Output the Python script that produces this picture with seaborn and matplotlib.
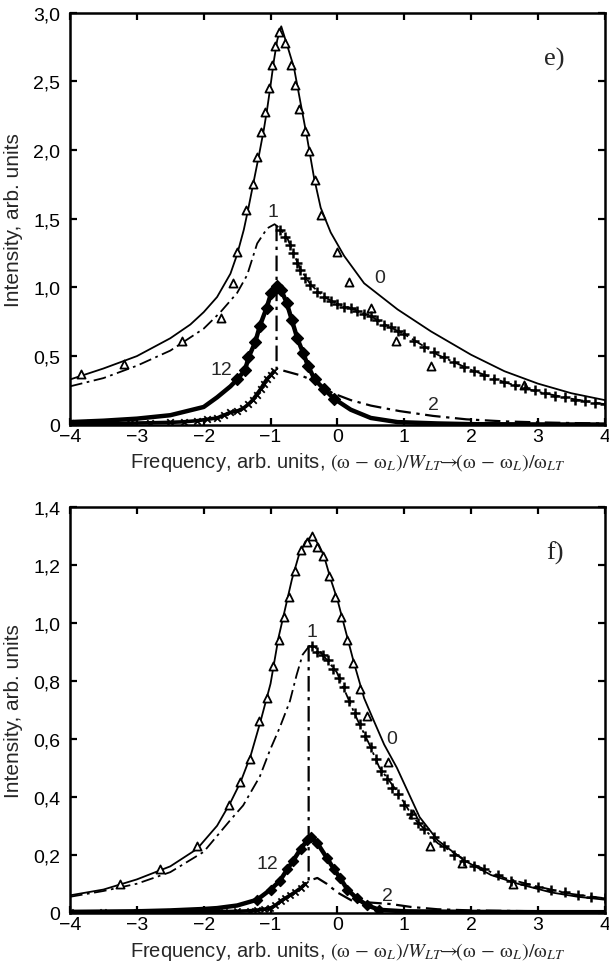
import matplotlib
matplotlib.use("Agg")
import matplotlib.pyplot as plt
import seaborn as sns

# ---------------- data: panel e ----------------
e0_x = [-4.0, -3.5, -3.0, -2.5, -2.2, -2.0, -1.8, -1.6, -1.5, -1.4, -1.33, -1.24, -1.17, -1.1, -1.05, -1.0,
        -0.95, -0.9, -0.84, -0.75, -0.65, -0.55, -0.45, -0.35, -0.25, -0.1, 0.1, 0.4, 0.9, 1.4, 2.0, 2.5,
        3.0, 3.5, 4.0]
e0_y = [0.33, 0.41, 0.50, 0.63, 0.73, 0.82, 0.93, 1.10, 1.24, 1.42, 1.58, 1.80, 1.97, 2.15, 2.30, 2.47,
        2.65, 2.80, 2.90, 2.76, 2.60, 2.34, 2.08, 1.80, 1.58, 1.40, 1.23, 1.03, 0.84, 0.68, 0.51, 0.39,
        0.30, 0.23, 0.18]
e0_mx = [-3.83, -3.19, -2.32, -1.74, -1.56, -1.5, -1.36, -1.27, -1.2, -1.14, -1.08, -1.03, -0.98, -0.93,
         -0.87, -0.78, -0.7, -0.63, -0.57, -0.49, -0.42, -0.34, -0.24, 0.0, 0.18, 0.5, 0.87, 1.4, 2.79]
e0_my = [0.37, 0.44, 0.61, 0.78, 1.03, 1.26, 1.56, 1.75, 1.95, 2.13, 2.28, 2.45, 2.62, 2.76,
         2.86, 2.78, 2.62, 2.47, 2.30, 2.14, 1.99, 1.78, 1.53, 1.26, 1.04, 0.85, 0.61, 0.43, 0.29]

e1_x = [-4.0, -3.5, -3.0, -2.5, -2.0, -1.75, -1.5, -1.35, -1.2, -1.05, -0.94, -0.86, -0.75, -0.65, -0.55,
        -0.4, -0.2, 0.0, 0.25, 0.5, 0.75, 1.0, 1.5, 2.0, 2.5, 3.0, 3.5, 4.0]
e1_y = [0.28, 0.34, 0.43, 0.54, 0.70, 0.82, 0.96, 1.09, 1.32, 1.43, 1.46, 1.43, 1.36, 1.24, 1.13,
        1.02, 0.93, 0.88, 0.84, 0.79, 0.72, 0.66, 0.51, 0.40, 0.31, 0.24, 0.19, 0.15]
e1_mx = [-0.86, -0.78, -0.71, -0.67, -0.6, -0.56, -0.48, -0.41, -0.3, -0.2, -0.1, 0.0, 0.1, 0.2, 0.3, 0.4,
         0.5, 0.6, 0.7, 0.8, 0.9, 1.0, 1.15, 1.3, 1.45, 1.6, 1.75, 1.9, 2.05, 2.2, 2.35, 2.5, 2.65, 2.8,
         2.95, 3.1, 3.25, 3.4, 3.55, 3.7, 3.85, 4.0]
e1_my = [1.42, 1.37, 1.31, 1.25, 1.18, 1.13, 1.07, 1.02, 0.97, 0.93, 0.90, 0.88, 0.86, 0.85, 0.83, 0.81,
         0.79, 0.76, 0.73, 0.71, 0.68, 0.66, 0.61, 0.57, 0.53, 0.49, 0.46, 0.42, 0.39, 0.36, 0.33, 0.31,
         0.29, 0.27, 0.25, 0.23, 0.21, 0.20, 0.18, 0.17, 0.16, 0.15]

e2_x = [-0.91, -0.91, -0.85, -0.7, -0.55, -0.4, -0.25, -0.07, 0.2, 0.5, 0.93, 1.43, 1.93, 2.5, 3.0, 3.5, 4.0]
e2_y = [1.45, 0.41, 0.40, 0.38, 0.36, 0.33, 0.29, 0.23, 0.18, 0.14, 0.10, 0.065, 0.04, 0.025, 0.018,
        0.013, 0.01]
e2_mx = [-4.0, -3.7, -3.4, -3.1, -2.8, -2.5, -2.3, -2.1, -1.95, -1.8, -1.7, -1.6, -1.5, -1.41, -1.33,
         -1.27, -1.21, -1.15, -1.1, -1.06, -1.0, -0.95]
e2_my = [0.01, 0.01, 0.01, 0.012, 0.015, 0.018, 0.022, 0.03, 0.04, 0.05, 0.07, 0.09, 0.10, 0.12, 0.15,
         0.18, 0.22, 0.26, 0.30, 0.33, 0.36, 0.39]

e12_x = [-4.0, -3.5, -3.0, -2.5, -2.0, -1.8, -1.6, -1.5, -1.38, -1.33, -1.23, -1.16, -1.06, -0.99, -0.91,
         -0.84, -0.76, -0.68, -0.6, -0.51, -0.44, -0.34, -0.2, -0.05, 0.2, 0.5, 0.9, 1.5, 2.0, 3.0, 4.0]
e12_y = [0.02, 0.03, 0.045, 0.07, 0.13, 0.20, 0.28, 0.33, 0.40, 0.49, 0.60, 0.72, 0.85, 0.96, 1.01,
         0.98, 0.89, 0.76, 0.63, 0.52, 0.43, 0.33, 0.26, 0.19, 0.11, 0.05, 0.02, 0.01, 0.005, 0.003, 0.002]

# ---------------- data: panel f ----------------
f0_x = [-4.0, -3.5, -3.0, -2.5, -2.1, -1.8, -1.6, -1.45, -1.3, -1.15, -1.0, -0.88, -0.78, -0.68, -0.58,
        -0.48, -0.38, -0.28, -0.2, -0.1, 0.0, 0.08, 0.25, 0.4, 0.53, 0.7, 0.89, 1.05, 1.23, 1.5, 1.9, 2.3,
        2.7, 3.2, 3.6, 4.0]
f0_y = [0.06, 0.08, 0.115, 0.16, 0.22, 0.30, 0.38, 0.45, 0.54, 0.66, 0.79, 0.95, 1.05, 1.15, 1.23,
        1.28, 1.30, 1.27, 1.23, 1.15, 1.08, 1.01, 0.86, 0.74, 0.67, 0.58, 0.50, 0.42, 0.33, 0.25, 0.18, 0.13,
        0.10, 0.07, 0.055, 0.045]
f0_mx = [-3.25, -2.65, -2.1, -1.62, -1.45, -1.31, -1.17, -1.05, -0.97, -0.88, -0.8, -0.72, -0.64, -0.55,
         -0.45, -0.38, -0.3, -0.22, -0.12, -0.03, 0.06, 0.14, 0.24, 0.34, 0.45, 0.75, 1.13, 1.38, 1.87, 2.62]
f0_my = [0.10, 0.15, 0.23, 0.37, 0.45, 0.53, 0.66, 0.74, 0.85, 0.94, 1.02, 1.09, 1.18, 1.25,
         1.28, 1.30, 1.26, 1.23, 1.16, 1.09, 1.02, 0.94, 0.86, 0.77, 0.68, 0.52, 0.34, 0.23, 0.17, 0.10]

f1_x = [-4.0, -3.5, -3.0, -2.5, -2.0, -1.6, -1.41, -1.16, -1.01, -0.86, -0.71, -0.61, -0.52, -0.42, -0.35,
        -0.22, -0.01, 0.14, 0.29, 0.48, 0.63, 0.89, 1.13, 1.5, 2.0, 2.5, 3.0, 3.5, 4.0]
f1_y = [0.055, 0.075, 0.10, 0.14, 0.21, 0.32, 0.37, 0.47, 0.56, 0.64, 0.73, 0.82, 0.89, 0.92, 0.92,
        0.89, 0.83, 0.75, 0.67, 0.58, 0.50, 0.42, 0.33, 0.24, 0.17, 0.12, 0.09, 0.065, 0.05]
f1_mx = [-0.38, -0.3, -0.22, -0.14, -0.06, 0.02, 0.1, 0.18, 0.26, 0.34, 0.42, 0.5, 0.58, 0.66, 0.74, 0.82,
         0.9, 1.0, 1.1, 1.2, 1.3, 1.45, 1.6, 1.75, 1.9, 2.05, 2.2, 2.4, 2.6, 2.8, 3.0, 3.2, 3.4, 3.6, 3.8, 4.0]
f1_my = [0.92, 0.90, 0.89, 0.87, 0.84, 0.81, 0.78, 0.73, 0.69, 0.65, 0.61, 0.57, 0.53, 0.49, 0.46, 0.43,
         0.41, 0.37, 0.34, 0.31, 0.29, 0.26, 0.23, 0.20, 0.18, 0.16, 0.15, 0.13, 0.11, 0.10, 0.09, 0.08,
         0.07, 0.06, 0.055, 0.05]

f2_x = [-0.43, -0.43, -0.3, -0.16, 0.0, 0.23, 0.5, 0.8, 1.1, 1.5, 2.0, 3.0, 4.0]
f2_y = [0.92, 0.11, 0.12, 0.10, 0.07, 0.04, 0.035, 0.03, 0.02, 0.012, 0.008, 0.005, 0.004]
f2_mx = [-4.0, -3.5, -3.0, -2.5, -2.0, -1.7, -1.5, -1.3, -1.2, -1.1, -1.01, -0.93, -0.85, -0.78, -0.71,
         -0.63, -0.55, -0.48]
f2_my = [0.002, 0.002, 0.003, 0.003, 0.003, 0.004, 0.005, 0.007, 0.009, 0.012, 0.015, 0.025, 0.04, 0.05,
         0.06, 0.072, 0.085, 0.10]

f12_x = [-4.0, -3.0, -2.5, -2.0, -1.8, -1.5, -1.2, -1.0, -0.86, -0.75, -0.66, -0.55, -0.45, -0.4, -0.3,
         -0.16, -0.05, 0.04, 0.15, 0.29, 0.45, 0.63, 1.0, 2.0, 3.0, 4.0]
f12_y = [0.003, 0.005, 0.008, 0.013, 0.016, 0.025, 0.045, 0.08, 0.11, 0.15, 0.18, 0.22, 0.25, 0.26, 0.24,
         0.19, 0.15, 0.12, 0.08, 0.05, 0.025, 0.01, 0.005, 0.003, 0.002, 0.002]

# ---------------- ticks / labels ----------------
x_ticks = [-4, -3, -2, -1, 0, 1, 2, 3, 4]
x_ticklabels = ["\u22124", "\u22123", "\u22122", "\u22121", "0", "1", "2", "3", "4"]
e_yticks = [0, 0.5, 1.0, 1.5, 2.0, 2.5, 3.0]
e_yticklabels = ["0", "0,5", "1,0", "1,5", "2,0", "2,5", "3,0"]
f_yticks = [0, 0.2, 0.4, 0.6, 0.8, 1.0, 1.2, 1.4]
f_yticklabels = ["0", "0,2", "0,4", "0,6", "0,8", "1,0", "1,2", "1,4"]

xlabel_txt = ("Frequency, arb. units, "
              r"$(\mathrm{\omega}\,-\,\mathrm{\omega}_L)/W_{LT}\!\!\rightarrow\!\!"
              r"(\mathrm{\omega}\,-\,\mathrm{\omega}_L)/\mathrm{\omega}_{LT}$")
ylabel_txt = "Intensity, arb. units"

# ---------------- style ----------------
sns.set_theme(style="ticks")
plt.rcParams["font.family"] = ["Liberation Sans", "DejaVu Sans"]
plt.rcParams["mathtext.fontset"] = "stix"
plt.rcParams["axes.linewidth"] = 1.6

fig = plt.figure(figsize=(6.09, 9.70), dpi=100)
ax_e = fig.add_axes([0.115, 0.5610, 0.878, 0.4250])
ax_f = fig.add_axes([0.115, 0.0580, 0.878, 0.4185])

DASHDOT = (0, (7, 2.5, 1.5, 2.5))
LW = 1.3


def line(ax, x, y, ls="-", lw=LW):
    sns.lineplot(x=x, y=y, ax=ax, color="black", estimator=None, sort=False,
                 linewidth=lw, linestyle=ls)
    ax.lines[-1].set_linestyle(ls)


def pts(ax, x, y, marker, s, filled=True, lw=1.0):
    if filled:
        sns.scatterplot(x=x, y=y, ax=ax, marker=marker, s=s, color="black",
                        edgecolor="black", linewidth=lw, zorder=4)
    else:
        sns.scatterplot(x=x, y=y, ax=ax, marker=marker, s=s, color="white",
                        edgecolor="black", linewidth=lw, zorder=4)


def unfilled(ax, x, y, marker, s, lw=1.2):
    sns.scatterplot(x=x, y=y, ax=ax, marker=marker, s=s, color="black", linewidth=lw, zorder=4)


# ---- panel e ----
line(ax_e, e0_x, e0_y, "-")
line(ax_e, e1_x, e1_y, DASHDOT)
line(ax_e, e2_x, e2_y, DASHDOT, lw=1.6)
line(ax_e, e12_x, e12_y, "-", lw=3.2)
line(ax_e, e2_mx, e2_my, "-", lw=2.6)
pts(ax_e, e0_mx, e0_my, "^", 34, filled=False, lw=1.3)
unfilled(ax_e, e1_mx, e1_my, "+", 55, lw=1.8)
pts(ax_e, e12_x[7:24], e12_y[7:24], "D", 36)
unfilled(ax_e, e2_mx, e2_my, "x", 22, lw=1.3)

# ---- panel f ----
line(ax_f, f0_x, f0_y, "-")
line(ax_f, f1_x, f1_y, DASHDOT)
line(ax_f, f2_x, f2_y, DASHDOT, lw=1.6)
line(ax_f, f12_x, f12_y, "-", lw=3.2)
line(ax_f, f2_mx, f2_my, "-", lw=2.6)
pts(ax_f, f0_mx, f0_my, "^", 34, filled=False, lw=1.3)
unfilled(ax_f, f1_mx, f1_my, "+", 50, lw=1.8)
pts(ax_f, f12_x[6:22], f12_y[6:22], "D", 26)
unfilled(ax_f, f2_mx, f2_my, "x", 20, lw=1.3)

# ---- axes decoration ----
for ax, yt, ytl, ymax, tag in [(ax_e, e_yticks, e_yticklabels, 3.0, "e)"),
                                 (ax_f, f_yticks, f_yticklabels, 1.4, "f)")]:
    ax.set_xlim(-4, 4)
    ax.set_ylim(0, ymax)
    ax.set_xticks(x_ticks)
    ax.set_xticklabels(x_ticklabels)
    ax.set_yticks(yt)
    ax.set_yticklabels(ytl)
    ax.tick_params(direction="in", top=True, right=True, length=5, width=1.6,
                   labelsize=14, colors="black")
    ax.tick_params(axis="x", pad=2)
    ax.tick_params(axis="y", pad=7)
    for sp in ax.spines.values():
        sp.set_visible(True)
        sp.set_color("black")
        sp.set_linewidth(1.8)
    ax.set_xlabel(xlabel_txt, fontsize=14.5)
    ax.set_ylabel(ylabel_txt, fontsize=15)
    ax.yaxis.set_label_coords(-0.088, 0.5)
    ax.text(0.906, 0.889, tag, transform=ax.transAxes, ha="center", va="center",
            fontsize=19, family="Liberation Serif")

ax_e.xaxis.set_label_coords(0.52, -0.062)
ax_f.xaxis.set_label_coords(0.52, -0.065)

# curve labels
ax_e.text(-0.97, 1.55, "1", fontsize=14, ha="center", va="center")
ax_e.text(0.63, 1.07, "0", fontsize=14, ha="center", va="center")
ax_e.text(-1.73, 0.40, "12", fontsize=14, ha="center", va="center")
ax_e.text(1.43, 0.15, "2", fontsize=14, ha="center", va="center")
ax_f.text(-0.38, 0.97, "1", fontsize=14, ha="center", va="center")
ax_f.text(0.81, 0.60, "0", fontsize=14, ha="center", va="center")
ax_f.text(-1.04, 0.17, "12", fontsize=14, ha="center", va="center")
ax_f.text(0.75, 0.06, "2", fontsize=14, ha="center", va="center")

fig.savefig("out.png", dpi=100)
